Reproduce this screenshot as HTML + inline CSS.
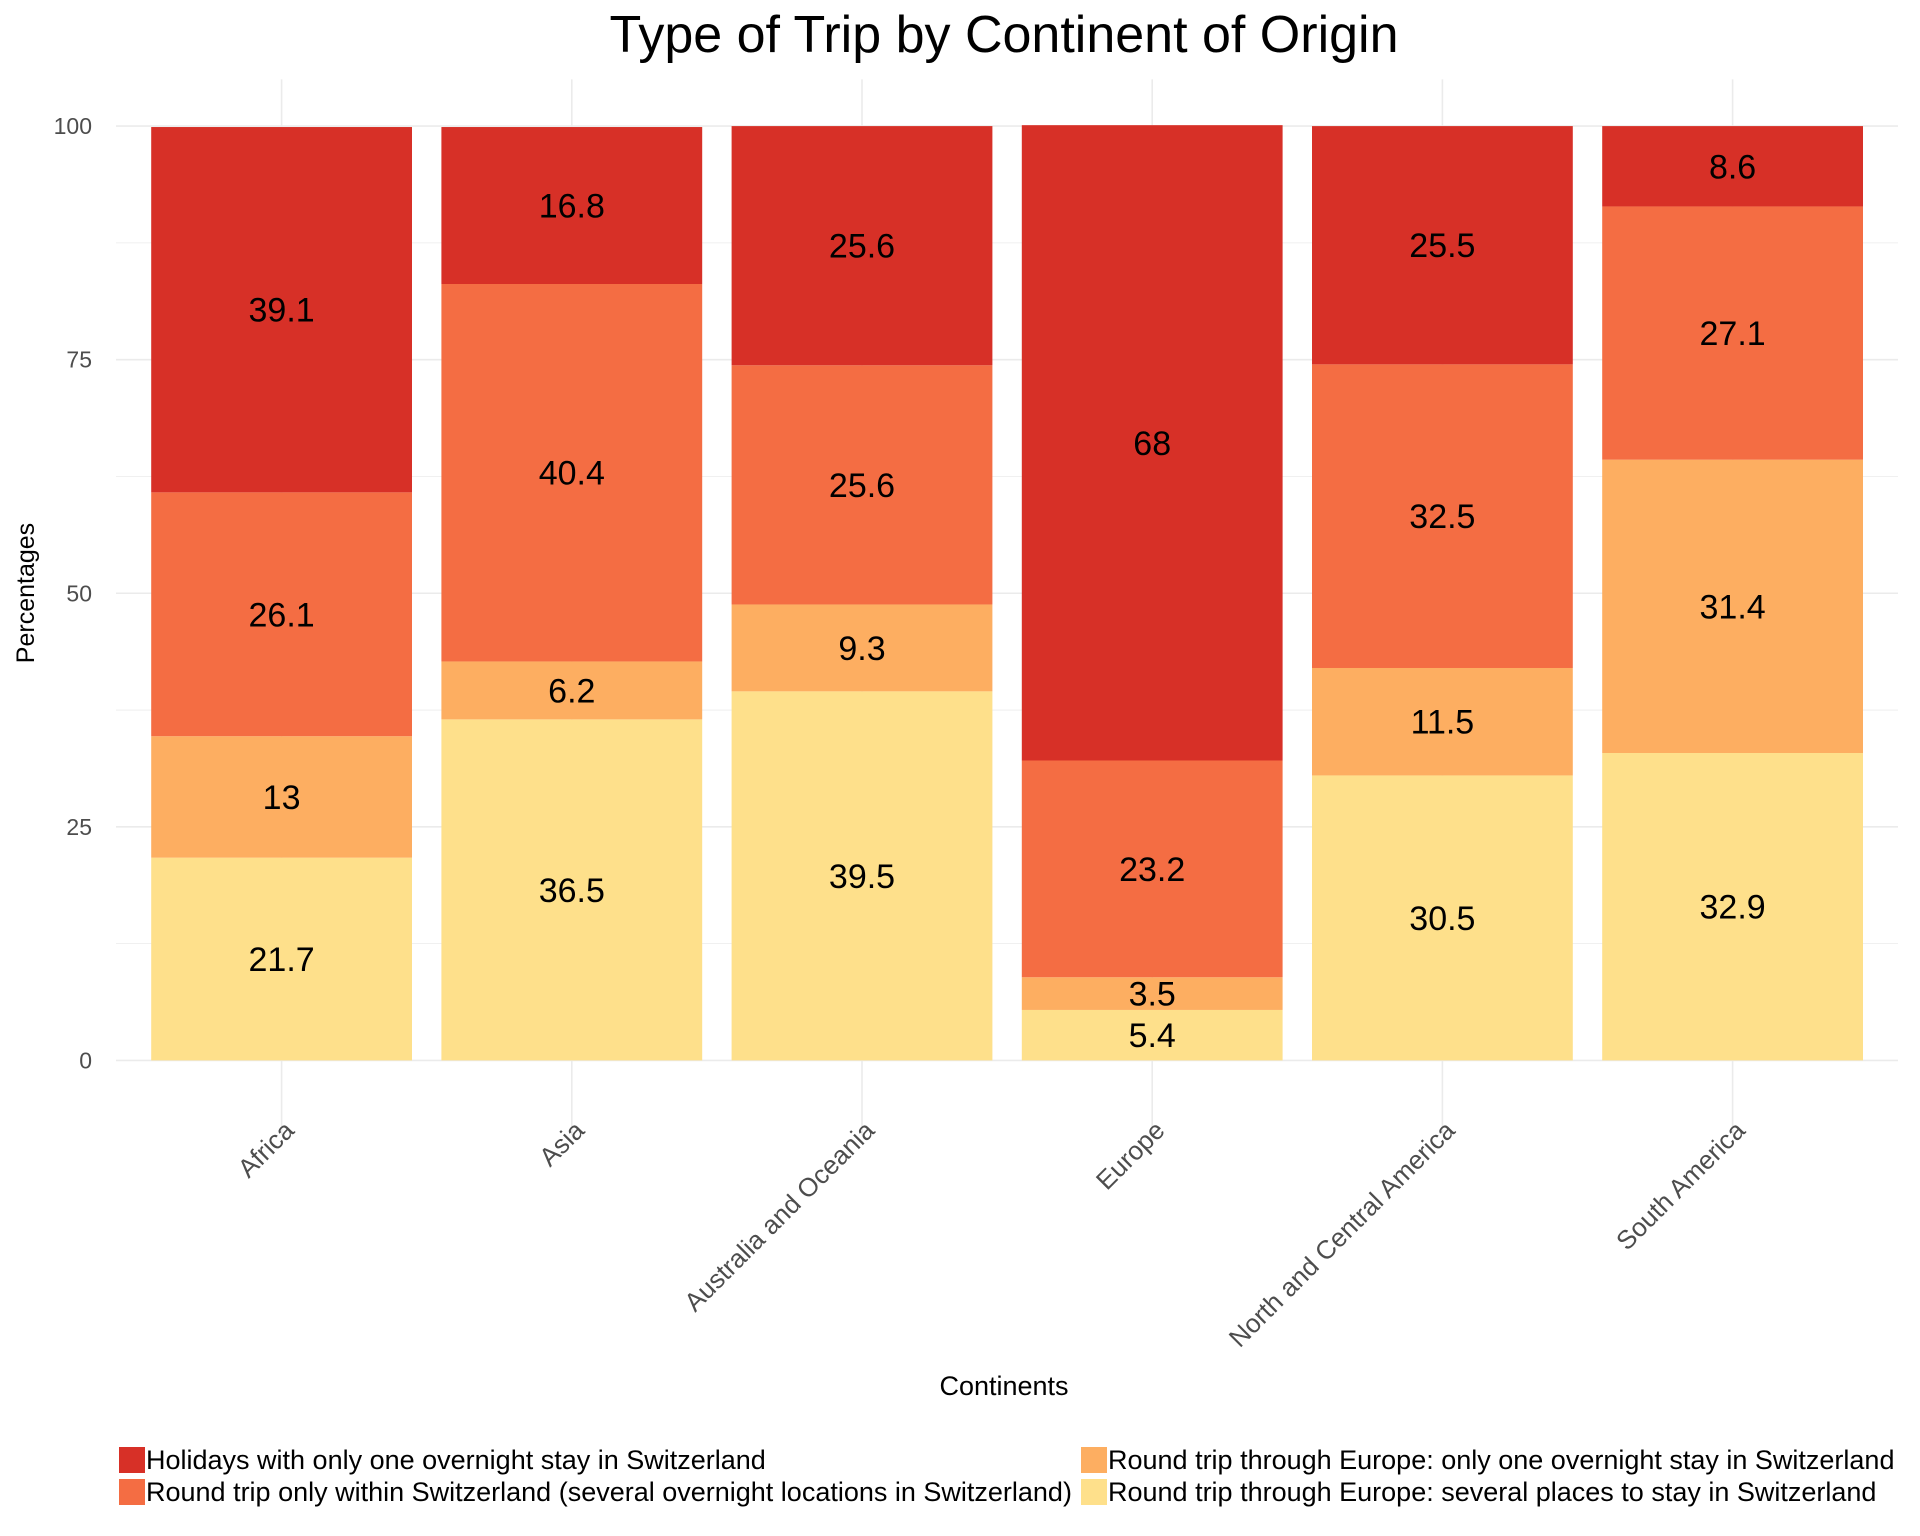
<!DOCTYPE html>
<html><head><meta charset="utf-8"><style>
html,body{margin:0;padding:0;background:#fff;}
svg{display:block;font-family:"Liberation Sans",Arial,sans-serif;}
</style></head><body>
<svg id="chart" width="1920" height="1536" viewBox="0 0 1920 1536">
<text x="1004" y="52" text-anchor="middle" font-size="52" fill="#000">Type of Trip by Continent of Origin</text>
<g id="grid"></g><g id="bars"></g><g id="labels"></g><g id="axes"></g>
<text transform="translate(34,593) rotate(-90)" text-anchor="middle" font-size="25" fill="#000">Percentages</text>
<text x="1004" y="1395" text-anchor="middle" font-size="27" fill="#000">Continents</text>
<g id="legend"></g>
</svg>
<script>
const categories=["Africa","Asia","Australia and Oceania","Europe","North and Central America","South America"];
const seriesNames=["Round trip through Europe: several places to stay in Switzerland","Round trip through Europe: only one overnight stay in Switzerland","Round trip only within Switzerland (several overnight locations in Switzerland)","Holidays with only one overnight stay in Switzerland"];
const severalPlaces=[21.7,36.5,39.5,5.4,30.5,32.9];
const oneOvernightEurope=[13,6.2,9.3,3.5,11.5,31.4];
const withinSwitzerland=[26.1,40.4,25.6,23.2,32.5,27.1];
const holidaysOneNight=[39.1,16.8,25.6,68,25.5,8.6];
const yTicks=[0,25,50,75,100];
const series=[severalPlaces,oneOvernightEurope,withinSwitzerland,holidaysOneNight];
const colors=["#FEE08B","#FDAE61","#F46D43","#D73027"];
const ns="http://www.w3.org/2000/svg";
const y0=1060.4,y100=126.1,left=116,right=1898;
function y(v){return y0-(y0-y100)*v/100;}
function x(i){return 281.6+290.2*i;}
const bw=260.8;
function mk(t,a,p){const e=document.createElementNS(ns,t);for(const k in a)e.setAttribute(k,a[k]);p.appendChild(e);return e;}
const grid=document.getElementById('grid'),bars=document.getElementById('bars'),labels=document.getElementById('labels'),axes=document.getElementById('axes'),legend=document.getElementById('legend');
for(let v=0;v<=100;v+=12.5){const l=mk('line',{x1:left,x2:right,y1:y(v),y2:y(v),stroke:'#ebebeb','stroke-width':v%25===0?1.6:0.8},grid);

}
categories.forEach((c,i)=>{const l=mk('line',{x1:x(i),x2:x(i),y1:y(-8),y2:y(105),stroke:'#ebebeb','stroke-width':1.6},grid);

});
yTicks.forEach(v=>{const t=mk('text',{x:92,y:y(v)+8,'text-anchor':'end','font-size':23,fill:'#4d4d4d'},axes);t.textContent=v;

});
categories.forEach((c,i)=>{let base=0;series.forEach((s,k)=>{const v=s[i];
const r=mk('rect',{x:x(i)-bw/2,y:y(base+v),width:bw,height:y(base)-y(base+v),fill:colors[k]},bars);


const t=mk('text',{x:x(i),y:y(base+v/2)+12,'text-anchor':'middle','font-size':34,fill:'#000'},labels);t.textContent=v;


base+=v;});
const t=mk('text',{transform:`translate(${x(i)+14},${1132}) rotate(-45)`,'text-anchor':'end','font-size':26,fill:'#4d4d4d'},axes);t.textContent=c;

});
const legPos=[[1081,1505],[1081,1473],[119,1505],[119,1473]];
[3,2,1,0].forEach(k=>{const [lx,ly]=legPos[k];
const r=mk('rect',{x:lx,y:ly-26,width:26,height:26,fill:colors[k]},legend);


const t=mk('text',{x:lx+27,y:ly-4,'font-size':27,fill:'#000'},legend);t.textContent=seriesNames[k];

});
</script>
</body></html>
